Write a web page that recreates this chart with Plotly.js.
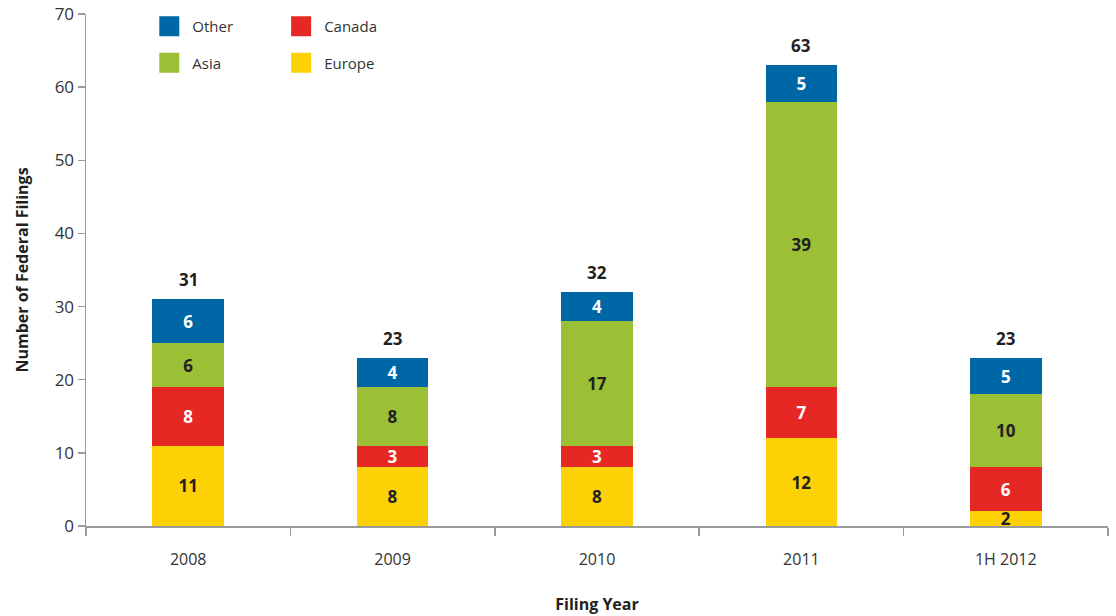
<!DOCTYPE html>
<html>
<head>
<meta charset="utf-8">
<script src="https://cdn.plot.ly/plotly-3.0.1.min.js"></script>
<style>html,body{margin:0;padding:0;background:#fff;}#chart{width:1116px;height:616px;}</style>
</head>
<body>
<div id="chart"></div>
<script>
const years = ["2008", "2009", "2010", "2011", "1H 2012"];
const europe = [11, 8, 8, 12, 2];
const canada = [8, 3, 3, 7, 6];
const asia = [6, 8, 17, 39, 10];
const other = [6, 4, 4, 5, 5];
const totals = [31, 23, 32, 63, 23];

const FONT = "Open Sans, DejaVu Sans, sans-serif";
const dark = "#231f20";
const colors = {Europe: "#fcd207", Canada: "#e52823", Asia: "#9bbf35", Other: "#0067a6"};

function bar(name, vals, textColor) {
  return {
    type: "bar", name: name, x: years, y: vals,
    marker: {color: colors[name], line: {width: 0}},
    width: 0.35,
    text: vals.map(String), textposition: "inside", insidetextanchor: "middle",
    textangle: 0, constraintext: "none",
    textfont: {family: FONT, size: 17, color: textColor, weight: "bold"},
    hoverinfo: "skip", showlegend: false
  };
}

function legendItem(name, legendName, group) {
  return {
    type: "scatter", mode: "markers", name: name, x: [null], y: [null],
    marker: {symbol: "square", size: 22, color: colors[name], line: {color: colors[name], width: 4}},
    legend: legendName, legendgroup: group, showlegend: true, hoverinfo: "skip"
  };
}

const traces = [
  bar("Europe", europe, dark),
  bar("Canada", canada, "#ffffff"),
  bar("Asia", asia, dark),
  bar("Other", other, "#ffffff"),
  legendItem("Other", "legend", "g1"),
  legendItem("Asia", "legend", "g2"),
  legendItem("Canada", "legend2", "g3"),
  legendItem("Europe", "legend2", "g4")
];

const annotations = years.map((yr, i) => ({
  x: i, y: totals[i], xref: "x", yref: "y",
  text: String(totals[i]), showarrow: false,
  yanchor: "bottom", yshift: 6,
  font: {family: FONT, size: 17, color: dark, weight: "bold"}
}));

const legendCommon = {
  y: 1.008, xanchor: "left", yanchor: "top",
  orientation: "v", traceorder: "grouped", tracegroupgap: 14,
  itemsizing: "trace", itemwidth: 36,
  font: {family: FONT, size: 15, color: "#333"},
  bgcolor: "rgba(0,0,0,0)"
};

const layout = {
  width: 1116, height: 616,
  margin: {l: 86, r: 8, t: 14, b: 90},
  paper_bgcolor: "#fff", plot_bgcolor: "#fff",
  barmode: "stack",
  font: {family: FONT, color: "#333"},
  annotations: annotations,
  xaxis: {
    type: "category", range: [-0.5, 4.5],
    showline: true, linecolor: "#9a9a9a", linewidth: 1.5,
    ticks: "outside", tickson: "boundaries", ticklen: 8, tickcolor: "#9a9a9a", tickwidth: 1.5,
    showgrid: false, zeroline: false,
    tickfont: {family: FONT, size: 16, color: "#333"},
    ticklabelstandoff: 18,
    title: {text: "Filing Year", font: {family: FONT, size: 16, color: dark, weight: "bold"}, standoff: 30}
  },
  yaxis: {
    range: [0, 70], dtick: 10,
    showline: true, linecolor: "#9a9a9a", linewidth: 1.5,
    ticks: "outside", ticklen: 7, tickcolor: "#9a9a9a", tickwidth: 1.5,
    showgrid: false, zeroline: false,
    tickfont: {family: FONT, size: 17, color: "#333"},
    title: {text: "Number of Federal Filings", font: {family: FONT, size: 16, color: dark, weight: "bold"}, standoff: 22}
  },
  legend: Object.assign({x: 0.059}, legendCommon),
  legend2: Object.assign({x: 0.188}, legendCommon),
  showlegend: true
};

Plotly.newPlot("chart", traces, layout, {displayModeBar: false, staticPlot: true});
</script>
</body>
</html>
